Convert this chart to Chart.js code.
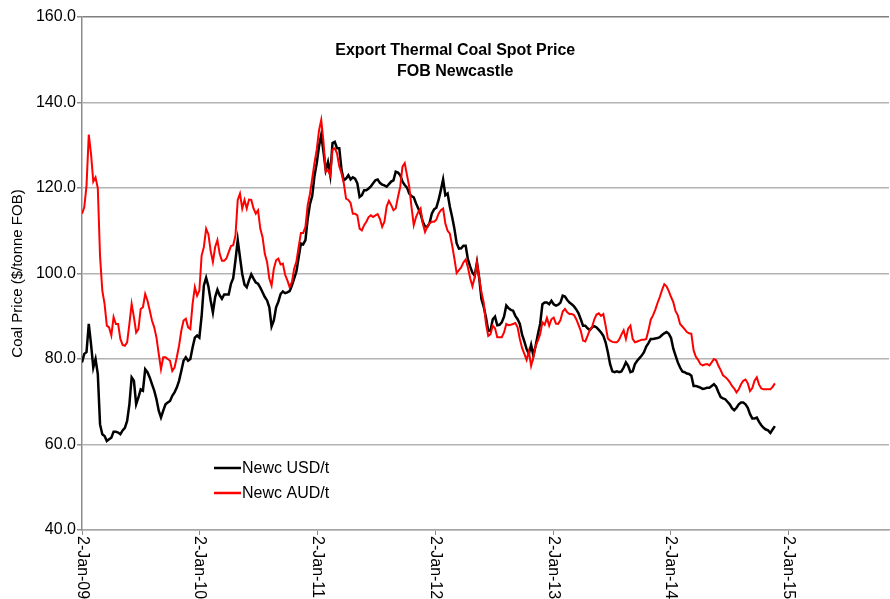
<!DOCTYPE html>
<html>
<head>
<meta charset="utf-8">
<script src="https://cdn.jsdelivr.net/npm/chart.js"></script>
<style>
  body { margin: 0; background: #fff; }
  #wrap { width: 890px; height: 599px; }
</style>
</head>
<body>
<div id="wrap"><canvas id="coal__chart" width="890" height="599"></canvas></div>
<script>
// weekly (Friday) price dates
var weeks = [
  '2009-01-02','2009-01-09','2009-01-16','2009-01-23','2009-01-30','2009-02-06','2009-02-13','2009-02-20','2009-02-27','2009-03-06',
  '2009-03-13','2009-03-20','2009-03-27','2009-04-03','2009-04-10','2009-04-17','2009-04-24','2009-05-01','2009-05-08','2009-05-15',
  '2009-05-22','2009-05-29','2009-06-05','2009-06-12','2009-06-19','2009-06-26','2009-07-03','2009-07-10','2009-07-17','2009-07-24',
  '2009-07-31','2009-08-07','2009-08-14','2009-08-21','2009-08-28','2009-09-04','2009-09-11','2009-09-18','2009-09-25','2009-10-02',
  '2009-10-09','2009-10-16','2009-10-23','2009-10-30','2009-11-06','2009-11-13','2009-11-20','2009-11-27','2009-12-04','2009-12-11',
  '2009-12-18','2009-12-25',
  '2010-01-01','2010-01-08','2010-01-15','2010-01-22','2010-01-29','2010-02-05','2010-02-12','2010-02-19','2010-02-26','2010-03-05',
  '2010-03-12','2010-03-19','2010-03-26','2010-04-02','2010-04-09','2010-04-16','2010-04-23','2010-04-30','2010-05-07','2010-05-14',
  '2010-05-21','2010-05-28','2010-06-04','2010-06-11','2010-06-18','2010-06-25','2010-07-02','2010-07-09','2010-07-16','2010-07-23',
  '2010-07-30','2010-08-06','2010-08-13','2010-08-20','2010-08-27','2010-09-03','2010-09-10','2010-09-17','2010-09-24','2010-10-01',
  '2010-10-08','2010-10-15','2010-10-22','2010-10-29','2010-11-05','2010-11-12','2010-11-19','2010-11-26','2010-12-03','2010-12-10',
  '2010-12-17','2010-12-24','2010-12-31',
  '2011-01-07','2011-01-14','2011-01-21','2011-01-28','2011-02-04','2011-02-11','2011-02-18','2011-02-25','2011-03-04','2011-03-11',
  '2011-03-18','2011-03-25','2011-04-01','2011-04-08','2011-04-15','2011-04-22','2011-04-29','2011-05-06','2011-05-13','2011-05-20',
  '2011-05-27','2011-06-03','2011-06-10','2011-06-17','2011-06-24','2011-07-01','2011-07-08','2011-07-15','2011-07-22','2011-07-29',
  '2011-08-05','2011-08-12','2011-08-19','2011-08-26','2011-09-02','2011-09-09','2011-09-16','2011-09-23','2011-09-30','2011-10-07',
  '2011-10-14','2011-10-21','2011-10-28','2011-11-04','2011-11-11','2011-11-18','2011-11-25','2011-12-02','2011-12-09','2011-12-16',
  '2011-12-23','2011-12-30',
  '2012-01-06','2012-01-13','2012-01-20','2012-01-27','2012-02-03','2012-02-10','2012-02-17','2012-02-24','2012-03-02','2012-03-09',
  '2012-03-16','2012-03-23','2012-03-30','2012-04-06','2012-04-13','2012-04-20','2012-04-27','2012-05-04','2012-05-11','2012-05-18',
  '2012-05-25','2012-06-01','2012-06-08','2012-06-15','2012-06-22','2012-06-29','2012-07-06','2012-07-13','2012-07-20','2012-07-27',
  '2012-08-03','2012-08-10','2012-08-17','2012-08-24','2012-08-31','2012-09-07','2012-09-14','2012-09-21','2012-09-28','2012-10-05',
  '2012-10-12','2012-10-19','2012-10-26','2012-11-02','2012-11-09','2012-11-16','2012-11-23','2012-11-30','2012-12-07','2012-12-14',
  '2012-12-21','2012-12-28',
  '2013-01-04','2013-01-11','2013-01-18','2013-01-25','2013-02-01','2013-02-08','2013-02-15','2013-02-22','2013-03-01','2013-03-08',
  '2013-03-15','2013-03-22','2013-03-29','2013-04-05','2013-04-12','2013-04-19','2013-04-26','2013-05-03','2013-05-10','2013-05-17',
  '2013-05-24','2013-05-31','2013-06-07','2013-06-14','2013-06-21','2013-06-28','2013-07-05','2013-07-12','2013-07-19','2013-07-26',
  '2013-08-02','2013-08-09','2013-08-16','2013-08-23','2013-08-30','2013-09-06','2013-09-13','2013-09-20','2013-09-27','2013-10-04',
  '2013-10-11','2013-10-18','2013-10-25','2013-11-01','2013-11-08','2013-11-15','2013-11-22','2013-11-29','2013-12-06','2013-12-13',
  '2013-12-20','2013-12-27',
  '2014-01-03','2014-01-10','2014-01-17','2014-01-24','2014-01-31','2014-02-07','2014-02-14','2014-02-21','2014-02-28','2014-03-07',
  '2014-03-14','2014-03-21','2014-03-28','2014-04-04','2014-04-11','2014-04-18','2014-04-25','2014-05-02','2014-05-09','2014-05-16',
  '2014-05-23','2014-05-30','2014-06-06','2014-06-13','2014-06-20','2014-06-27','2014-07-04','2014-07-11','2014-07-18','2014-07-25',
  '2014-08-01','2014-08-08','2014-08-15','2014-08-22','2014-08-29','2014-09-05','2014-09-12','2014-09-19','2014-09-26','2014-10-03',
  '2014-10-10','2014-10-17','2014-10-24','2014-10-31','2014-11-07','2014-11-14','2014-11-21'
];

// Newc USD/t
var newcUsd = [
  79.2, 81.2, 81.6, 88.2, 83.5, 78.0, 80.0, 76.5, 64.7, 62.4,
  62.0, 60.8, 61.2, 61.6, 63.0, 63.0, 62.8, 62.4, 63.3, 63.9,
  65.5, 69.4, 75.7, 74.9, 69.4, 71.0, 72.9, 72.6, 77.6, 76.9,
  75.7, 74.1, 72.6, 70.6, 67.9, 66.3, 67.9, 69.4, 69.8, 70.2,
  71.4, 72.2, 73.3, 74.9, 77.2, 79.6, 80.4, 79.6, 80.0, 82.7,
  85.0, 85.5, 85.0, 90.0, 97.2, 99.0, 97.0, 93.7, 90.9, 94.5,
  96.2, 94.9, 94.1, 95.1, 95.1, 95.1, 97.6, 98.9, 103.1, 107.8,
  103.8, 99.9, 97.4, 96.8, 98.4, 99.8, 98.8, 97.9, 97.6, 96.7,
  95.6, 94.5, 93.7, 92.1, 87.6, 89.0, 92.1, 93.4, 95.2, 95.8,
  95.4, 95.6, 95.9, 97.2, 98.8, 100.5, 103.8, 107.0, 106.8, 107.8,
  112.8, 116.2, 118.1, 122.8, 125.8, 129.7, 132.4, 128.5, 124.2, 126.1,
  123.0, 130.5, 130.8, 129.3, 129.3, 124.2, 121.8, 122.2, 123.0, 122.0,
  122.5, 122.2, 121.1, 117.9, 118.3, 119.5, 119.5, 119.9, 120.4, 121.1,
  121.8, 122.0, 121.2, 120.8, 120.6, 120.3, 120.9, 121.5, 121.8, 123.8,
  123.6, 123.0, 121.5, 120.7, 120.1, 118.7, 118.1, 117.8, 116.4, 115.2,
  114.0, 112.1, 111.0, 110.9, 111.8, 114.0, 115.0, 115.4, 117.2, 119.5,
  122.0, 118.3, 118.7, 115.6, 113.2, 110.5, 107.1, 105.8, 105.9, 106.5,
  106.5, 103.3, 101.6, 100.2, 99.5, 102.6, 98.9, 94.0, 92.2, 89.7,
  86.6, 86.6, 89.3, 89.9, 87.9, 88.0, 88.6, 89.9, 92.5, 91.9,
  91.5, 91.3, 90.1, 89.3, 88.2, 85.7, 84.1, 82.3, 81.2, 83.3,
  80.8, 83.1, 85.8, 88.2, 92.8, 93.2, 93.2, 92.8, 93.6, 92.8,
  92.5, 92.7, 93.2, 94.8, 94.6, 93.8, 93.2, 92.8, 92.3, 91.6,
  90.7, 89.3, 87.8, 87.8, 87.2, 86.8, 87.4, 87.7, 87.4, 86.8,
  86.2, 85.4, 83.9, 81.6, 78.8, 77.1, 76.9, 77.1, 76.9, 77.1,
  78.0, 79.2, 78.4, 76.9, 77.1, 78.8, 79.6, 80.2, 80.8, 81.6,
  82.9, 83.7, 84.7, 84.7, 84.8, 84.9, 85.1, 85.6, 86.0, 86.3,
  85.9, 84.9, 82.4, 80.8, 79.2, 78.0, 77.1, 76.9, 76.6, 76.5,
  76.1, 73.7, 73.7, 73.5, 73.3, 73.0, 73.1, 73.3, 73.3, 73.7,
  74.1, 73.5, 72.2, 71.1, 70.8, 70.6, 70.0, 69.4, 68.5, 68.0,
  68.6, 69.4, 69.8, 69.8, 69.4, 68.6, 67.1, 66.1, 66.1, 66.3,
  65.3, 64.5, 63.9, 63.5, 63.3, 62.7, 63.5, 64.3
];

// Newc AUD/t
var newcAud = [
  114.0, 115.5, 120.5, 132.5, 128.0, 121.5, 122.5, 120.0, 104.0, 96.0,
  92.9, 87.8, 87.4, 85.5, 89.8, 88.2, 88.2, 84.7, 83.3, 83.1,
  83.9, 88.2, 92.9, 89.8, 86.2, 87.0, 91.7, 92.1, 95.2, 93.7,
  91.4, 89.0, 87.4, 85.0, 81.2, 77.6, 80.4, 80.4, 80.0, 79.6,
  77.2, 78.0, 80.4, 83.1, 86.6, 89.0, 89.4, 87.4, 87.0, 92.9,
  96.8, 94.8, 96.0, 104.2, 106.2, 110.5, 109.2, 105.3, 102.7, 106.2,
  107.8, 104.6, 103.0, 103.0, 103.5, 105.0, 106.4, 106.6, 108.9, 117.2,
  118.7, 115.2, 117.2, 115.2, 117.3, 117.2, 115.2, 114.0, 114.8, 110.5,
  108.5, 104.6, 102.7, 98.8, 97.2, 101.1, 103.1, 103.5, 102.1, 102.3,
  99.7, 98.4, 96.8, 98.0, 101.1, 102.8, 106.2, 109.5, 109.5, 110.9,
  116.0, 118.6, 122.2, 125.8, 128.9, 133.4, 135.9, 130.8, 123.8, 124.2,
  123.0, 129.0, 129.3, 128.1, 125.0, 123.4, 121.1, 117.5, 117.2, 116.5,
  114.0, 114.0, 113.6, 110.5, 110.1, 111.3, 112.1, 113.2, 113.6, 113.2,
  113.6, 113.9, 112.8, 110.9, 112.1, 115.7, 117.0, 116.0, 114.8, 115.2,
  117.9, 120.3, 125.0, 125.8, 123.0, 120.3, 115.6, 111.3, 113.2, 114.4,
  115.2, 111.7, 109.7, 110.9, 111.8, 112.1, 112.1, 112.6, 114.0, 114.8,
  115.2, 111.7, 110.0, 109.3, 106.6, 103.5, 100.1, 100.8, 101.4, 102.6,
  103.3, 101.4, 98.9, 97.0, 99.1, 102.6, 98.9, 95.6, 93.2, 88.2,
  85.4, 85.8, 87.8, 87.2, 85.1, 85.1, 85.1, 86.2, 88.2, 87.9,
  88.0, 88.2, 88.4, 87.4, 84.7, 82.6, 81.2, 79.8, 81.8, 78.4,
  80.4, 83.1, 84.3, 85.8, 88.6, 88.0, 89.6, 87.8, 89.3, 89.7,
  88.3, 88.2, 89.1, 91.1, 91.7, 90.9, 90.5, 90.5, 90.3, 89.3,
  88.0, 86.6, 84.3, 84.1, 85.4, 86.8, 87.5, 89.3, 90.4, 90.7,
  90.1, 90.5, 87.8, 84.8, 84.3, 84.0, 83.9, 83.9, 84.5, 85.7,
  86.7, 84.7, 87.1, 87.8, 84.7, 83.9, 84.1, 84.3, 84.5, 84.5,
  84.7, 86.7, 89.2, 90.2, 91.5, 93.1, 94.5, 96.1, 97.5, 97.0,
  95.9, 94.5, 93.3, 91.2, 90.2, 88.2, 87.6, 87.0, 86.3, 86.0,
  85.9, 82.0, 80.5, 79.8, 78.8, 78.5, 78.7, 78.8, 78.5, 79.2,
  80.0, 79.7, 78.4, 77.4, 76.2, 75.8, 75.3, 74.6, 73.7, 73.1,
  72.2, 72.9, 74.1, 74.9, 75.2, 74.3, 72.5, 73.2, 74.9, 75.7,
  74.0, 73.1, 72.9, 72.9, 72.9, 72.9, 73.5, 74.3
];

var yearTicks = ['2009-01-02','2010-01-02','2011-01-02','2012-01-02','2013-01-02','2014-01-02','2015-01-02'];
var yearLabels = ['2-Jan-09','2-Jan-10','2-Jan-11','2-Jan-12','2-Jan-13','2-Jan-14','2-Jan-15'];
var xStart = '2009-01-02';
var xEnd = '2015-11-10';

var FONT = "'Liberation Sans', Arial, sans-serif";
Chart.defaults.font.family = FONT;
Chart.defaults.color = '#000';

function toPoints(vals) {
  return vals.map(function (v, i) { return { x: Date.parse(weeks[i]), y: v }; });
}

// title inside the plot
var titlePlugin = {
  id: 'plotTitle',
  afterDraw: function (chart) {
    var c = chart.ctx, a = chart.chartArea;
    var cx = a.left + (a.right - a.left) * 0.4625;
    c.save();
    c.font = 'bold 16px ' + FONT;
    c.fillStyle = '#000';
    c.textAlign = 'center';
    c.textBaseline = 'alphabetic';
    c.fillText('Export Thermal Coal Spot Price', cx, a.top + 38);
    c.fillText('FOB Newcastle', cx, a.top + 59);
    c.restore();
  }
};

// legend box inside the plot, lower left
var legendPlugin = {
  id: 'plotLegend',
  afterDraw: function (chart) {
    var c = chart.ctx, a = chart.chartArea;
    var x0 = a.left + 132, y0 = a.bottom - 62;
    c.save();
    c.font = '16px ' + FONT;
    c.textAlign = 'left';
    c.textBaseline = 'middle';
    chart.data.datasets.forEach(function (ds, i) {
      var y = y0 + i * 25;
      c.strokeStyle = ds.borderColor;
      c.lineWidth = 2.5;
      c.beginPath();
      c.moveTo(x0, y);
      c.lineTo(x0 + 27, y);
      c.stroke();
      c.fillStyle = '#000';
      c.fillText(ds.label, x0 + 28, y + 1);
    });
    c.restore();
  }
};

// x tick labels turned to read downward
var xLabelPlugin = {
  id: 'xLabels',
  afterDraw: function (chart) {
    var c = chart.ctx, sx = chart.scales.x;
    c.save();
    c.font = '16px ' + FONT;
    c.fillStyle = '#000';
    c.textAlign = 'left';
    c.textBaseline = 'middle';
    yearTicks.forEach(function (d, i) {
      var px = sx.getPixelForValue(Date.parse(d));
      c.save();
      c.translate(px, chart.chartArea.bottom + 6);
      c.rotate(Math.PI / 2);
      c.fillText(yearLabels[i], 0, 0);
      c.restore();
    });
    c.restore();
  }
};

var ctx = document.getElementById('coal__chart').getContext('2d');
var coalChart = new Chart(ctx, {
  type: 'line',
  data: {
    datasets: [{
      label: 'Newc USD/t',
      data: toPoints(newcUsd),
      borderColor: '#000000',
      borderWidth: 2.5,
      order: 1
    }, {
      label: 'Newc AUD/t',
      data: toPoints(newcAud),
      borderColor: '#ff0000',
      borderWidth: 2,
      order: 0
    }]
  },
  options: {
    responsive: false,
    animation: false,
    elements: {
      point: { radius: 0 },
      line: { tension: 0, fill: false }
    },
    layout: { padding: { left: 0, top: 17, right: 1, bottom: 0 } },
    plugins: {
      legend: { display: false },
      tooltip: { enabled: false }
    },
    scales: {
      x: {
        type: 'linear',
        min: Date.parse(xStart),
        max: Date.parse(xEnd),
        afterBuildTicks: function (s) {
          s.ticks = yearTicks.map(function (d) { return { value: Date.parse(d) }; });
        },
        ticks: { display: false },
        grid: { drawOnChartArea: false, drawTicks: true, tickLength: 5, color: '#8c8c8c', lineWidth: 1 },
        border: { color: '#a6a6a6', width: 1.5 },
        afterFit: function (s) { s.height = 69; }
      },
      y: {
        min: 40,
        max: 160,
        ticks: {
          stepSize: 20,
          padding: 1,
          font: { size: 16 },
          color: '#000',
          callback: function (v) { return v.toFixed(1); }
        },
        grid: {
          color: function (c) { return c.tick && c.tick.value === 160 ? '#7f7f7f' : '#b3b3b3'; },
          lineWidth: 1.5,
          tickLength: 5,
          tickColor: '#8c8c8c'
        },
        border: { color: '#8c8c8c', width: 1.5 },
        title: {
          display: true,
          text: 'Coal Price ($/tonne FOB)',
          font: { size: 15 },
          color: '#000',
          padding: { top: 9, bottom: 0 }
        },
        afterFit: function (s) { s.width = 82; }
      }
    }
  },
  plugins: [titlePlugin, legendPlugin, xLabelPlugin]
});
</script>
</body>
</html>
